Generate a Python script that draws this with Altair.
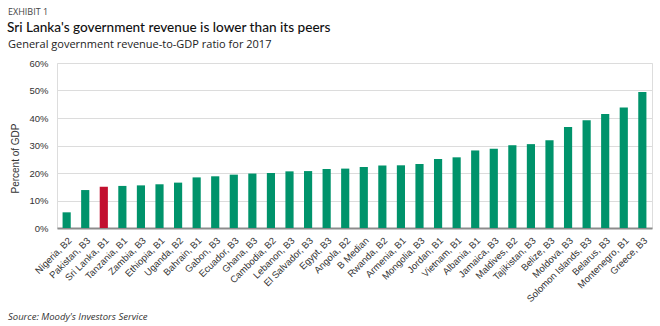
import altair as alt
import pandas as pd

countries = ["Nigeria, B2", "Pakistan, B3", "Sri Lanka, B1", "Tanzania, B1", "Zambia, B3",
             "Ethiopia, B1", "Uganda, B2", "Bahrain, B1", "Gabon, B3", "Ecuador, B3",
             "Ghana, B3", "Cambodia, B2", "Lebanon, B3", "El Salvador, B3", "Egypt, B3",
             "Angola, B2", "B Median", "Rwanda, B2", "Armenia, B1", "Mongolia, B3",
             "Jordan, B1", "Vietnam, B1", "Albania, B1", "Jamaica, B3", "Maldives, B2",
             "Tajikistan, B3", "Belize, B3", "Moldova, B3", "Solomon Islands, B3",
             "Belarus, B3", "Montenegro, B1", "Greece, B3"]
revenue = [5.7, 13.8, 15.0, 15.3, 15.5, 15.9, 16.5, 18.4, 18.8, 19.4,
           19.8, 20.0, 20.6, 20.7, 21.5, 21.6, 22.2, 22.7, 22.8, 23.3,
           25.1, 25.7, 28.2, 28.8, 30.1, 30.5, 31.9, 36.7, 39.2,
           41.5, 43.8, 49.5]
highlight = ["Sri Lanka, B1"]

df = pd.DataFrame({"country": countries, "value": [v / 100 for v in revenue]})
df["hl"] = df["country"].isin(highlight)

W, H = 595, 165
LEFT, TOP = 57, 63

bars = alt.Chart(df).mark_bar().encode(
    x=alt.X("country:N", sort=countries, title=None,
            scale=alt.Scale(paddingInner=0.56, paddingOuter=0.3),
            axis=alt.Axis(labelAngle=-45, labelAlign="right", labelBaseline="top",
                          ticks=False, domainColor="#8c8c8c", domainWidth=2,
                          labelFont="Liberation Sans", labelFontSize=9.5,
                          labelColor="#333333", labelPadding=7)),
    y=alt.Y("value:Q", title="Percent of GDP",
            scale=alt.Scale(domain=[0, 0.6]),
            axis=alt.Axis(format=".0%", values=[0, .1, .2, .3, .4, .5, .6],
                          domain=False, ticks=False, gridColor="#dcdcdc",
                          labelFont="Liberation Sans", labelFontSize=9.5,
                          labelColor="#333333", labelPadding=9,
                          titleFont="Liberation Sans", titleFontSize=10,
                          titleFontWeight="normal", titleColor="#333333",
                          titleX=-37, titleY=95)),
    color=alt.Color("hl:N", scale=alt.Scale(domain=[False, True],
                                            range=["#00936b", "#c2102f"]), legend=None),
)

def txt(label, x, y, size, color, font="Open Sans", style="normal", weight="normal"):
    return alt.Chart(pd.DataFrame({"t": [label]})).mark_text(
        align="left", baseline="alphabetic", fontSize=size, color=color,
        font=font, fontStyle=style, fontWeight=weight).encode(
        text="t:N", x=alt.value(x), y=alt.value(y))

exhibit = txt("EXHIBIT 1", 8 - LEFT, 14.5 - TOP, 9, "#444444")
title = txt("Sri Lanka's government revenue is lower than its peers", 7 - LEFT, 31.5 - TOP, 13.6,
            "#111111", font="Lato", weight=500)
subtitle = txt("General government revenue-to-GDP ratio for 2017", 8 - LEFT, 48 - TOP, 11, "#222222")
source = txt("Source: Moody's Investors Service", 8 - LEFT, 320 - TOP, 9.5, "#333333", style="italic")

chart = alt.layer(bars, exhibit, title, subtitle, source).properties(
    width=W, height=H,
    autosize=alt.AutoSizeParams(type="none"),
    padding={"left": LEFT, "top": TOP, "right": 660 - LEFT - W, "bottom": 326 - TOP - H},
).configure_view(stroke=None).configure(background="white")

chart.save("out.html", embed_options={"renderer": "svg", "actions": False})
